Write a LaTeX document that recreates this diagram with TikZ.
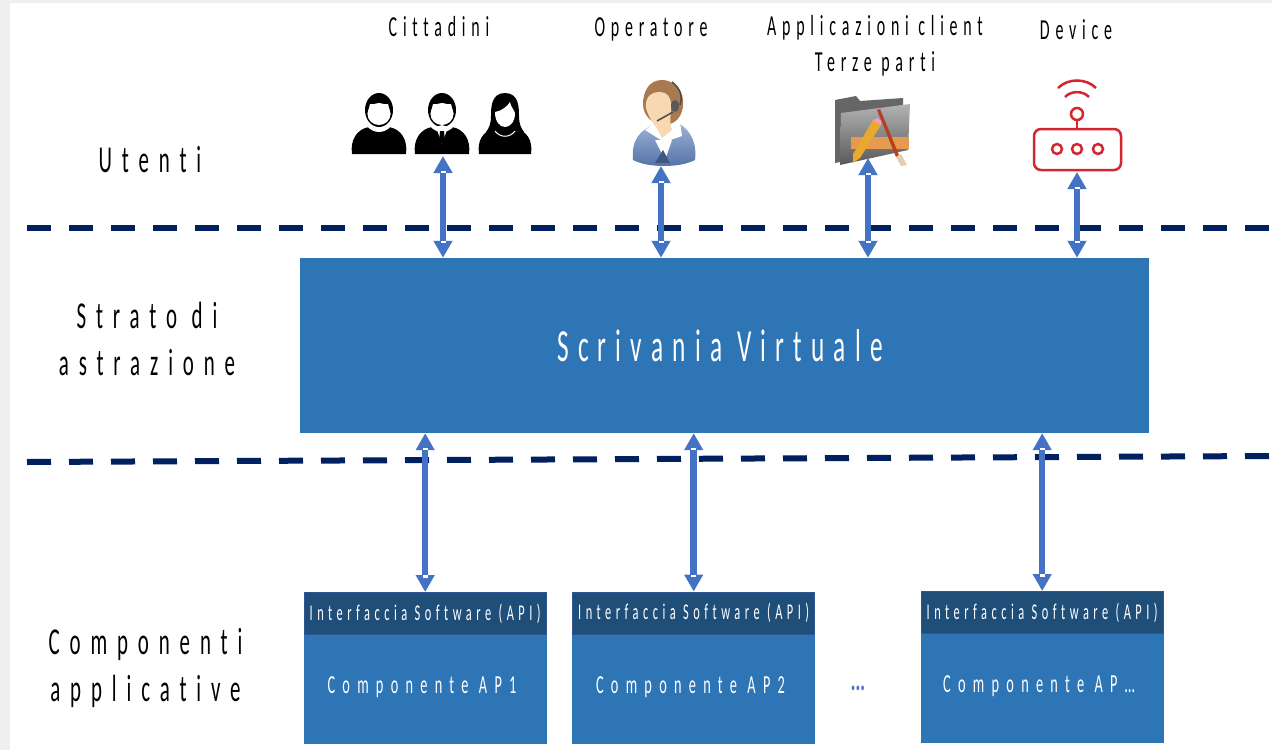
\documentclass[tikz,border=0pt]{standalone}
\usepackage{amsmath,amsthm,amssymb}
\usepackage[svgnames]{xcolor}
\usepackage{fontspec}
\usepackage{tkz-euclide}
\usepackage{tikz}
\usetikzlibrary{arrows.meta,decorations.markings}
\setmainfont[LetterSpace=20,FakeStretch=0.55,Ligatures=NoCommon]{Carlito}
\definecolor{boxblue}{HTML}{2E75B6}
\definecolor{apiblue}{HTML}{1F4E79}
\definecolor{apiedge}{HTML}{2F5597}
\definecolor{arrowblue}{HTML}{4472C4}
\definecolor{linenavy}{HTML}{002060}
\definecolor{pagegray}{HTML}{EFEFEF}
\definecolor{routerred}{HTML}{D5252F}
\definecolor{hairbrown}{HTML}{A9794F}
\definecolor{skintone}{HTML}{F8D8B0}
\definecolor{jacketblue}{HTML}{5B7DB8}
\definecolor{rulerorange}{HTML}{E59A50}
\definecolor{pencilyellow}{HTML}{E8A92E}
\definecolor{brushred}{HTML}{B5401F}
\tikzset{
  levelline/.style={draw=linenavy, line width=6pt, dash pattern=on 24pt off 18pt},
  linkarrow/.style={draw=arrowblue, line width=6.5pt,
    {Triangle[width=18pt,length=17pt]}-{Triangle[width=18pt,length=17pt]},
    postaction={decorate, decoration={markings,
      mark=at position 17pt with {\fill[white] (-2.5,-2.5) rectangle (0,2.5);},
      mark=at position -17pt with {\fill[white] (0,-2.5) rectangle (2.5,2.5);}}}},
  routerline/.style={draw=routerred, line width=2.5pt},
  toplabel/.style={text=black, align=center, font=\fontsize{29}{36}\selectfont},
  sidelabel/.style={text=black, align=center, font=\fontsize{38}{46.5}\selectfont\addfontfeature{LetterSpace=26}},
  layerbox/.style={fill=boxblue, minimum width=849pt, minimum height=175pt, inner sep=0pt},
  layertext/.style={text=white, font=\fontsize{46}{50}\selectfont},
  compbox/.style={fill=boxblue, minimum width=243pt, minimum height=152pt, inner sep=0pt},
  comptext/.style={text=white, font=\fontsize{26}{30}\selectfont\addfontfeature{LetterSpace=28}},
  apibox/.style={fill=apiblue, draw=apiedge, line width=1pt, text=white, minimum width=242pt, minimum height=42pt, inner sep=0pt, font=\fontsize{22.5}{28}\selectfont},
  man/.pic={
    \fill[black] (-27,44) .. controls (-29,30) and (-22,19) .. (-10,17) -- (10,17) .. controls (22,19) and (29,30) .. (27,44) -- cycle;
    \fill[white] (0,2) ellipse (17 and 20);
    \fill[black] (0,0) ellipse (14 and 17);
    \fill[white] (0,4) ellipse (11.5 and 11);
    \fill[white] (-11.5,4) -- (-9,-6) -- (9,-6) -- (11.5,4) -- cycle;
  },
  woman/.pic={
    \fill[black] (-26,44) .. controls (-28,30) and (-22,22) .. (-10,17) -- (10,17) .. controls (22,22) and (28,30) .. (26,44) -- cycle;
    \fill[black] (0,-17) .. controls (-14,-17) and (-14,-2) .. (-14,6) .. controls (-14,14) and (-16,18) .. (-19,22) -- (19,22) .. controls (16,18) and (14,14) .. (14,6) .. controls (14,-2) and (14,-17) .. (0,-17) -- cycle;
    \fill[white] (-10,2) .. controls (-4,1) and (2,-3) .. (5,-8) .. controls (6,-3) and (9,0) .. (10,3) .. controls (10,12) and (5,17) .. (0,17) .. controls (-5,17) and (-10,12) .. (-10,2) -- cycle;
    \draw[white, line width=1pt] (-10,21) .. controls (-5,28) and (5,28) .. (10,21);
  }
}
\begin{document}
\begin{tikzpicture}[x=1pt, y=-1pt]
    \useasboundingbox (0,0) rectangle (1272,750);
    \fill[pagegray] (0,0) rectangle (1272,750);
    \fill[white] (10,3) rectangle (1272,750);

    \tkzDefPoint(27,228){T_1}
    \tkzDefPoint(1272,228){T_2}
    \tkzDefPoint(27,462){B_1}
    \tkzDefPoint(1272,456){B_2}
    \tkzDefPoint(443,156){C_1}
    \tkzDefPoint(661,166){C_2}
    \tkzDefPoint(868,158){C_3}
    \tkzDefPoint(1077,172){C_4}

    \draw[levelline] (T_1) -- (T_2);
    \draw[levelline] (B_1) -- (B_2);

    \node[layerbox] (scrivania) at (724.5,345.5) {};
    \node[layertext] (scrivania_name) at (720,345.5) {Scrivania Virtuale};

    \node[compbox, anchor=north west] (comp_1) at (303.5,592) {};
    \node[compbox, anchor=north west] (comp_2) at (572,591.5) {};
    \node[compbox, anchor=north west] (comp_3) at (920.5,591) {};
    \node[apibox, anchor=north] (api_1) at (comp_1.north) {Interfaccia Software (API)};
    \node[apibox, anchor=north] (api_2) at (comp_2.north) {Interfaccia Software (API)};
    \node[apibox, anchor=north] (api_3) at (comp_3.north) {Interfaccia Software (API)};
    \node[comptext] (name_1) at (422,687) {Componente AP1};
    \node[comptext] (name_2) at (690.5,687) {Componente AP2};
    \node[comptext] (name_3) at (1039,686) {Componente AP\dots};
    \node[text=arrowblue, font=\fontsize{32}{34}\selectfont\bfseries\addfontfeature{LetterSpace=0}] (more) at (858,688) {...};

    \draw[linkarrow] (C_1) -- (C_1 |- scrivania.north);
    \draw[linkarrow] (C_2) -- (C_2 |- scrivania.north);
    \draw[linkarrow] (C_3) -- (C_3 |- scrivania.north);
    \draw[linkarrow] (C_4) -- (C_4 |- scrivania.north);
    \draw[linkarrow] (api_1.north) -- (api_1.north |- scrivania.south);
    \draw[linkarrow] (api_2.north) -- (api_2.north |- scrivania.south);
    \draw[linkarrow] (api_3.north) -- (api_3.north |- scrivania.south);

    \node[toplabel] (cittadini) at (439,27) {Cittadini};
    \node[toplabel] (operatore) at (651,29) {Operatore};
    \node[toplabel] (client) at (875,46) {Applicazioni client\\Terze parti};
    \node[toplabel] (device) at (1076,30) {Device};
    \node[sidelabel] (utenti) at (150,160) {Utenti};
    \node[sidelabel] (strato) at (147,339) {Strato di\\astrazione};
    \node[sidelabel] (componenti) at (145.5,668) {Componenti\\applicative};

    \pic at (379,110) {man};
    \pic at (442,110) {man};
    \fill[white] (442,125) -- (436,127) -- (442,144) -- (448,127) -- cycle;
    \fill[black] (440,131) -- (444,131) -- (445,141) -- (442,144) -- (439,141) -- cycle;
    \pic at (505,110) {woman};

    \shade[top color=jacketblue!60!white, bottom color=jacketblue!90!black] (633,160) .. controls (631,140) and (640,130) .. (655,124) -- (680,124) .. controls (692,132) and (697,145) .. (695,160) .. controls (680,168) and (648,168) .. (633,160) -- cycle;
    \fill[white] (645,130) -- (655,123) -- (680,122) -- (682,136) -- (664,142) -- cycle;
    \fill[white] (655,140) -- (672,140) -- (665,160) -- cycle;
    \fill[jacketblue!70!black] (663,150) -- (655,163) -- (670,163) -- cycle;
    \fill[hairbrown] (662,80) .. controls (648,80) and (643,93) .. (643,104) .. controls (643,116) and (653,125) .. (665,125) .. controls (680,124) and (684,110) .. (683,100) .. controls (682,88) and (672,80) .. (662,80) -- cycle;
    \fill[skintone] (660,92) .. controls (650,92) and (645,98) .. (646,108) .. controls (649,120) and (658,128) .. (662,138) -- (672,130) .. controls (669,122) and (671,115) .. (671,105) .. controls (671,97) and (667,92) .. (660,92) -- cycle;
    \draw[black!70, line width=1.5pt] (672,82) .. controls (680,88) and (683,96) .. (680,105);
    \fill[black!65] (675,106) ellipse (4 and 6);
    \draw[black!70, line width=1.5pt] (673,112) -- (657,121);

    \fill[black!60] (835,163) -- (835,100) -- (856,96) -- (860,101) -- (903,98) -- (903,150) -- cycle;
    \shade[top color=black!30, bottom color=black!65] (840,165) -- (841,113) -- (910,104) -- (908,150) -- cycle;
    \fill[rulerorange] (851,137) rectangle (909,149);
    \fill[brushred] (877,110) -- (880,109) -- (899,155) -- (896,157) -- cycle;
    \fill[brown!40!white] (896,157) -- (901,154) -- (907,165) -- (901,166) -- cycle;
    \fill[pencilyellow] (873,120) -- (881,125) -- (860,158) -- (853,163) -- (853,154) -- cycle;
    \fill[magenta!40!white] (873,120) -- (881,125) -- (881,121) -- (877,118) -- cycle;

    \draw[routerline, rounded corners=7pt] (1034,129) rectangle (1121,170);
    \draw[routerline] (1057,149) circle (5);
    \draw[routerline] (1077,149) circle (5);
    \draw[routerline] (1098,149) circle (5);
    \draw[routerline] (1077,114) circle (6);
    \draw[routerline] (1077,120) -- (1077,129);
    \draw[routerline] (1058,88) .. controls (1068,78) and (1086,78) .. (1096,88);
    \draw[routerline] (1065,97) .. controls (1071,90.5) and (1083,90.5) .. (1089,97);
\end{tikzpicture}
\end{document}
